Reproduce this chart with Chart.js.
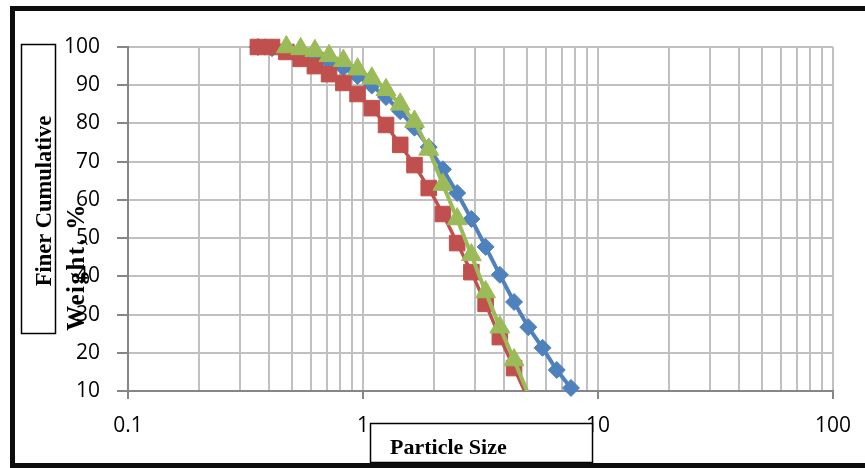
<!DOCTYPE html>
<html><head><meta charset="utf-8">
<script src="https://cdn.jsdelivr.net/npm/chart.js@4.4.1/dist/chart.umd.min.js"></script>
<style>html,body{margin:0;padding:0;background:#fff;}#wrap{width:865px;height:468px;position:relative;}</style>
</head><body><div id="wrap"><canvas id="c" width="865" height="468"></canvas></div>
<script>
// Particle sizes (microns) shared by the three samples
const particleSizes = [0.357,0.410,0.472,0.543,0.624,0.717,0.825,0.948,1.090,1.253,1.440,1.656,1.904,2.188,2.516,2.892,3.325,3.822,4.394,5.051,5.807,6.676,7.675];
// Finer cumulative weight, %
const series1Finer = [100,99.7,99.2,98.4,97.3,96.0,94.6,92.4,89.9,86.9,83.2,78.9,73.8,68.0,61.8,55.0,47.7,40.4,33.3,26.7,21.3,15.5,10.8];
const series2Finer = [100,100,98.7,96.9,95.0,92.9,90.6,87.7,84.0,79.6,74.4,69.1,63.1,56.3,48.7,41.1,32.8,24.1,16.0,7.9];
const series3Finer = [null,null,100,99.5,99.0,97.7,96.4,94.2,91.8,88.8,85.0,80.5,73.2,64.0,55.0,45.6,35.9,26.7,18.1,9.2];
const seriesNames = ['Sample 1','Sample 2','Sample 3'];
const xTickValues = [0.1,0.2,0.3,0.4,0.5,0.6,0.7,0.8,0.9,1,2,3,4,5,6,7,8,9,10,20,30,40,50,60,70,80,90,100];
const xTickLabels = {0.1:'0.1',1:'1',10:'10',100:'100'};
const yTitleLines = ['Finer Cumulative','Weight, %'];
const xTitleLines = ['Particle Size','(microns)'];

function pts(vals){
  const out=[];
  vals.forEach((v,i)=>{ if(v!==null) out.push({x:particleSizes[i], y:v}); });
  return out;
}
const hideBelow = r => c => (c.raw && c.raw.y < 10) ? 0 : r;

const decor = {
  id:'decor',
  afterDraw(chart){
    const ctx = chart.ctx;
    ctx.save();
    // Y title box
    ctx.fillStyle='#fff';
    ctx.fillRect(21,44,34,289);
    ctx.strokeStyle='#000'; ctx.lineWidth=1.5;
    ctx.strokeRect(21.5,44.5,34,289);
    ctx.fillStyle='#000';
    ctx.font='bold 22.5px "Liberation Serif", serif';
    ctx.textBaseline='middle'; ctx.textAlign='center';
    ctx.save(); ctx.translate(45,201); ctx.rotate(-Math.PI/2); ctx.fillText(yTitleLines[0],0,0); ctx.restore();
    ctx.save(); ctx.translate(78,267); ctx.rotate(-Math.PI/2);
    ctx.font='bold 25px "Liberation Serif", serif';
    ctx.letterSpacing='1.5px';
    ctx.fillText(yTitleLines[1],0,0); ctx.restore();
    ctx.letterSpacing='0px';
    // X title box
    ctx.fillStyle='#fff';
    ctx.fillRect(370,423,222,39);
    ctx.strokeRect(370.5,423.5,222,39);
    ctx.fillStyle='#000';
    ctx.font='bold 22px "Liberation Serif", serif';
    ctx.textAlign='left'; ctx.textBaseline='alphabetic';
    ctx.fillText(xTitleLines[0],390,454);
    ctx.fillText(xTitleLines[1],392,477);
    // outer frame
    ctx.fillStyle='#0d0d0d';
    ctx.fillRect(10,6,855,5);
    ctx.fillRect(10,6,5,462);
    ctx.fillRect(10,463,855,5);
    ctx.restore();
  }
};

const tickFont = {family:'"Open Sans", sans-serif', size:21};
new Chart(document.getElementById('c'),{
  type:'line',
  data:{datasets:[
    {label:seriesNames[0], data:pts(series1Finer), borderColor:'#4F81BD', backgroundColor:'#4F81BD',
     pointStyle:'rectRot', pointRadius:hideBelow(8.5), pointBorderWidth:1, borderWidth:4, order:3, clip:false},
    {label:seriesNames[1], data:pts(series2Finer), borderColor:'#C0504D', backgroundColor:'#C0504D',
     pointStyle:'rect', pointRadius:hideBelow(11), pointBorderWidth:1, borderWidth:3.5, order:2,
     clip:{left:20,right:20,top:20,bottom:0}},
    {label:seriesNames[2], data:pts(series3Finer), borderColor:'#9BBB59', backgroundColor:'#9BBB59',
     pointStyle:'triangle', pointRadius:hideBelow(11.5), pointBorderWidth:1, borderWidth:4, order:1,
     clip:{left:20,right:20,top:20,bottom:0}}
  ]},
  options:{
    responsive:false, animation:false, devicePixelRatio:1,
    layout:{padding:{left:0,right:29,top:47,bottom:0}},
    plugins:{legend:{display:false}, tooltip:{enabled:false}},
    elements:{line:{tension:0}},
    scales:{
      x:{type:'logarithmic', min:0.1, max:100,
        afterBuildTicks:s=>{ s.ticks = xTickValues.map(v=>({value:v})); },
        afterFit:s=>{ s.height = 77; },
        ticks:{autoSkip:false, maxRotation:0, font:tickFont, color:'#000', padding:14,
          callback:(v)=> xTickLabels[v] || ''},
        grid:{color:'#c0c0c0', lineWidth:2, tickLength:8,
          tickColor:c=> (c.tick && xTickLabels[c.tick.value]) ? '#868686' : 'rgba(0,0,0,0)'},
        border:{color:'#868686', width:2}
      },
      y:{type:'linear', min:10, max:100,
        afterFit:s=>{ s.width = 128; },
        ticks:{stepSize:10, font:tickFont, color:'#000', padding:17},
        grid:{color:'#c0c0c0', lineWidth:2, tickLength:11, tickColor:'#868686'},
        border:{color:'#868686', width:2}
      }
    }
  },
  plugins:[decor]
});
</script></body></html>
